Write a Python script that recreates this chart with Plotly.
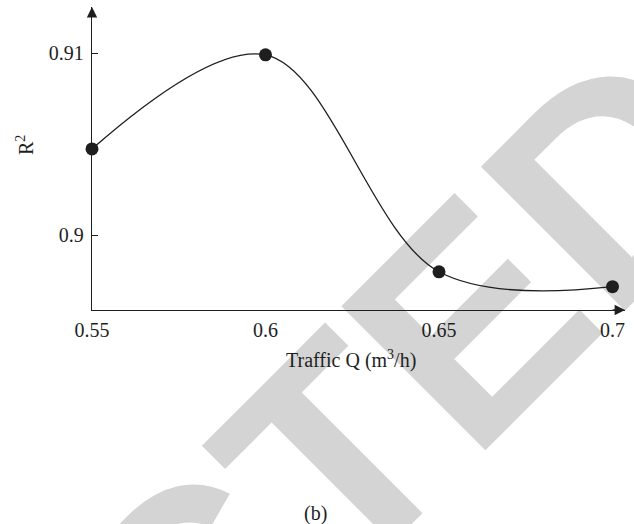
import plotly.graph_objects as go

# Flow rate (m^3/h) against coefficient of determination
traffic_q = [0.55, 0.60, 0.65, 0.70]
r_squared = [0.90473, 0.9099, 0.89798, 0.89716]

x_tick_vals = [0.55, 0.60, 0.65, 0.70]
x_tick_text = ["0.55", "0.6", "0.65", "0.7"]
y_tick_vals = [0.90, 0.91]
y_tick_text = ["0.9", "0.91"]

x_range = [0.55, 0.7036]
y_range = [0.89588, 0.91253]

ink = "#1e1e1e"
serif = "Liberation Serif"
fs = 20

fig = go.Figure()
fig.add_trace(go.Scatter(
    x=traffic_q, y=r_squared,
    mode="lines+markers",
    line=dict(color=ink, width=1.3, shape="spline", smoothing=1.0),
    marker=dict(color=ink, size=13),
    cliponaxis=False,
    showlegend=False,
))

# axis arrowheads
fig.add_annotation(x=x_range[1], y=y_range[0], ax=x_range[1] - 0.004, ay=y_range[0],
                   xref="x", yref="y", axref="x", ayref="y", text="",
                   showarrow=True, arrowhead=2, arrowsize=1.6, arrowwidth=1.3,
                   arrowcolor=ink)
fig.add_annotation(x=x_range[0], y=y_range[1], ax=x_range[0], ay=y_range[1] - 0.0005,
                   xref="x", yref="y", axref="x", ayref="y", text="",
                   showarrow=True, arrowhead=2, arrowsize=1.6, arrowwidth=1.3,
                   arrowcolor=ink)

# axis titles and panel tag
label_style = dict(xref="paper", yref="paper", showarrow=False,
                   xanchor="center", yanchor="middle",
                   font=dict(family=serif, size=fs, color=ink))
fig.add_annotation(x=0.486, y=-0.165, text="Traffic Q (m<sup>3</sup>/h)", **label_style)
fig.add_annotation(x=-0.1257, y=0.5446, text="R<sup>2</sup>", textangle=-90, **label_style)
fig.add_annotation(x=0.420, y=-0.670, text="(b)", **label_style)

# diagonal RETRACTED stamp behind the chart
fig.add_shape(type="rect", xref="paper", yref="paper",
              x0=-0.1317, x1=-0.1217, y0=-1.380, y1=-1.370,
              layer="below", line=dict(width=0), fillcolor="rgba(0,0,0,0)",
              label=dict(text="RETRACTED", textangle=-45, textposition="middle center",
                         font=dict(family="Liberation Sans", size=296, color="#d4d4d4",
                                   weight="bold")))

fig.update_layout(
    width=634, height=524,
    margin=dict(l=92, r=9, t=7, b=214),
    paper_bgcolor="white", plot_bgcolor="rgba(0,0,0,0)",
    font=dict(family=serif, size=fs, color=ink),
    xaxis=dict(range=x_range, showgrid=False, zeroline=False,
               showline=True, linecolor=ink, linewidth=1.3,
               tickvals=x_tick_vals, ticktext=x_tick_text, ticks="",
               tickfont=dict(size=fs), ticklabelstandoff=2),
    yaxis=dict(range=y_range, showgrid=False, zeroline=False,
               showline=True, linecolor=ink, linewidth=1.3,
               tickvals=y_tick_vals, ticktext=y_tick_text,
               ticks="inside", ticklen=6, tickwidth=1.3, tickcolor=ink,
               tickfont=dict(size=fs), ticklabelstandoff=3),
)

fig.write_html("out.html")
